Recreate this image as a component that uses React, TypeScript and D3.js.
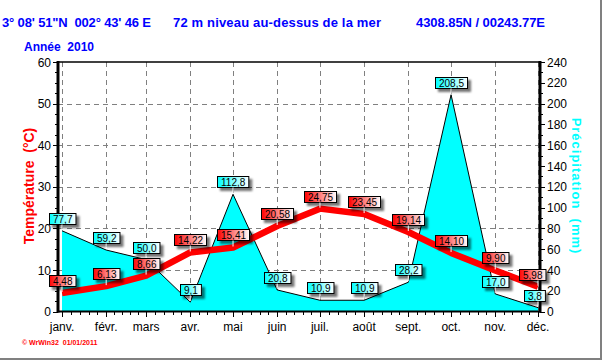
import React, { useEffect, useRef } from 'react';
import * as d3 from 'd3';

const months = ['janv.', 'févr.', 'mars', 'avr.', 'mai', 'juin', 'juil.', 'août', 'sept.', 'oct.', 'nov.', 'déc.'];
const temperature = [4.48, 6.13, 8.66, 14.22, 15.41, 20.58, 24.75, 23.45, 19.14, 14.10, 9.90, 5.98];
const precipitation = [77.7, 59.2, 50.0, 9.1, 112.8, 20.8, 10.9, 10.9, 28.2, 208.5, 17.0, 3.8];
const tempTicks = [0, 10, 20, 30, 40, 50, 60];
const precTicks = [0, 20, 40, 60, 80, 100, 120, 140, 160, 180, 200, 220, 240];

// header pieces, each with its left x and width
const titleParts = [
  { text: '3° 08\' 51"N  002° 43\' 46 E', x: 2, w: 149 },
  { text: '72 m niveau au-dessus de la mer', x: 173, w: 208 },
  { text: '4308.85N / 00243.77E', x: 416, w: 129 },
];
const yearText = 'Année  2010';
const footerText = '© WrWin32  01/01/2011';

const App = () => {
  const svgRef = useRef(null);

  useEffect(() => {
    const width = 603;
    const height = 360;
    const font = '"Liberation Sans", Arial, sans-serif';

    const svg = d3.select(svgRef.current)
      .attr('width', width)
      .attr('height', height)
      .style('display', 'block')
      .style('position', 'absolute')
      .style('left', 0)
      .style('top', 0)
      .style('background', '#fff');
    svg.selectAll('*').remove();

    const defs = svg.append('defs');
    const shadow = defs.append('filter').attr('id', 'shadow')
      .attr('x', '-20%').attr('y', '-30%').attr('width', '160%').attr('height', '190%');
    shadow.append('feDropShadow').attr('dx', 3).attr('dy', 3)
      .attr('stdDeviation', 1.2).attr('flood-color', '#000').attr('flood-opacity', 0.55);

    const grad = (id, c) => {
      const g = defs.append('linearGradient').attr('id', id)
        .attr('x1', '0%').attr('x2', '100%').attr('y1', '0%').attr('y2', '0%');
      g.append('stop').attr('offset', '0%').attr('stop-color', c);
      g.append('stop').attr('offset', '100%').attr('stop-color', '#fff');
    };
    grad('gradRed', '#ff0000');
    grad('gradCyan', '#00ffff');

    const left = 58, right = 540, top = 62, bottom = 311.6;
    const dates = months.map((m, i) => new Date(2010, i, 1));

    const x = d3.scaleTime()
      .domain([dates[0], dates[11]])
      .range([62, 538]);
    const yT = d3.scaleLinear().domain([0, 60]).range([bottom, top]);
    const yP = d3.scaleLinear().domain([0, 240]).range([bottom, top]);

    // frame border
    svg.append('line').attr('x1', 601).attr('x2', 601).attr('y1', 0).attr('y2', 359)
      .attr('stroke', '#808080').attr('stroke-width', 2);
    svg.append('line').attr('x1', 0).attr('x2', 602).attr('y1', 359).attr('y2', 359)
      .attr('stroke', '#808080').attr('stroke-width', 2);

    // grid
    const grid = svg.append('g').attr('stroke', '#808080').attr('stroke-width', 1)
      .attr('stroke-dasharray', '5,4').attr('shape-rendering', 'crispEdges');
    tempTicks.slice(1, -1).forEach(t => {
      grid.append('line').attr('x1', left).attr('x2', right)
        .attr('y1', Math.round(yT(t)) + 0.5).attr('y2', Math.round(yT(t)) + 0.5);
    });
    dates.forEach(d => {
      grid.append('line').attr('x1', Math.round(x(d)) + 0.5).attr('x2', Math.round(x(d)) + 0.5)
        .attr('y1', top).attr('y2', bottom);
    });

    // precipitation area
    const area = d3.area()
      .x((d, i) => x(dates[i]))
      .y0(bottom)
      .y1(d => yP(d));
    svg.append('path').datum(precipitation).attr('d', area).attr('fill', '#00ffff');
    svg.append('path').datum(precipitation)
      .attr('d', d3.line().x((d, i) => x(dates[i])).y(d => yP(d)))
      .attr('fill', 'none').attr('stroke', '#000').attr('stroke-width', 1);

    // temperature line
    svg.append('path').datum(temperature)
      .attr('d', d3.line().x((d, i) => x(dates[i])).y(d => yT(d)))
      .attr('fill', 'none').attr('stroke', '#ff0000').attr('stroke-width', 6.5)
      .attr('stroke-linejoin', 'round');

    // axes lines
    svg.append('line').attr('x1', left).attr('x2', right).attr('y1', top).attr('y2', top)
      .attr('stroke', '#000').attr('stroke-width', 1.5);
    svg.append('line').attr('x1', left).attr('x2', left).attr('y1', top - 1).attr('y2', bottom + 1)
      .attr('stroke', '#000').attr('stroke-width', 3);
    svg.append('line').attr('x1', right).attr('x2', right).attr('y1', top - 1).attr('y2', bottom + 1)
      .attr('stroke', '#000').attr('stroke-width', 3);
    svg.append('line').attr('x1', left).attr('x2', right).attr('y1', bottom).attr('y2', bottom)
      .attr('stroke', '#000').attr('stroke-width', 2);

    // left axis ticks
    const axL = svg.append('g').attr('stroke', '#000').attr('shape-rendering', 'crispEdges');
    d3.range(0, 60.01, 2.5).forEach(t => {
      const major = t % 10 === 0;
      axL.append('line').attr('x1', left - (major ? 5 : 3)).attr('x2', left)
        .attr('y1', Math.round(yT(t)) + 0.5).attr('y2', Math.round(yT(t)) + 0.5);
    });
    svg.append('g').selectAll('text').data(tempTicks).enter().append('text')
      .attr('x', 51).attr('y', d => yT(d) + 4.5)
      .attr('text-anchor', 'end')
      .style('font', `12px ${font}`)
      .text(d => d);

    // right axis ticks
    const axR = svg.append('g').attr('stroke', '#000').attr('shape-rendering', 'crispEdges');
    d3.range(0, 240.01, 10).forEach(t => {
      const major = t % 20 === 0;
      axR.append('line').attr('x1', right).attr('x2', right + (major ? 5 : 3))
        .attr('y1', Math.round(yP(t)) + 0.5).attr('y2', Math.round(yP(t)) + 0.5);
    });
    svg.append('g').selectAll('text').data(precTicks).enter().append('text')
      .attr('x', 547).attr('y', d => yP(d) + 4.5)
      .style('font', `12px ${font}`)
      .text(d => d);

    // bottom axis ticks
    const axB = svg.append('g').attr('stroke', '#000').attr('shape-rendering', 'crispEdges');
    dates.forEach((d, i) => {
      const xm = x(d);
      axB.append('line').attr('x1', Math.round(xm) + 0.5).attr('x2', Math.round(xm) + 0.5)
        .attr('y1', bottom).attr('y2', bottom + 5);
      if (i < dates.length - 1) {
        const xn = x(dates[i + 1]);
        for (let k = 1; k < 5; k++) {
          const xx = Math.round(xm + (xn - xm) * k / 5) + 0.5;
          axB.append('line').attr('x1', xx).attr('x2', xx).attr('y1', bottom).attr('y2', bottom + 3);
        }
      }
    });
    svg.append('g').selectAll('text').data(months).enter().append('text')
      .attr('x', (d, i) => x(dates[i]))
      .attr('y', 331)
      .attr('text-anchor', 'middle')
      .style('font', `12px ${font}`)
      .text(d => d);

    // value labels
    const drawLabels = (values, yScale, fmt, fill) => {
      values.forEach((v, i) => {
        const px = x(dates[i]);
        const py = yScale(v);
        const g = svg.append('g');
        const t = g.append('text')
          .style('font', `10px ${font}`)
          .attr('text-anchor', 'middle')
          .text(fmt(v));
        const w = t.node().getComputedTextLength() + 7;
        const h = 11;
        // keep the last box clear of the right-hand tick labels
        const bx = Math.round(Math.min(px - w / 2, 545 - w)) + 0.5;
        const by = Math.round(py - 7 - h) + 0.5;
        g.append('line').attr('x1', px).attr('x2', px).attr('y1', by + h).attr('y2', py - 1)
          .attr('stroke', '#fff').attr('stroke-width', 1);
        g.insert('rect', 'text')
          .attr('x', bx).attr('y', by).attr('width', w).attr('height', h)
          .attr('fill', `url(#${fill})`).attr('stroke', '#000').attr('stroke-width', 1)
          .attr('filter', 'url(#shadow)');
        t.attr('x', bx + w / 2).attr('y', by + 9);
      });
    };
    const comma = n => d => d.toFixed(n).replace('.', ',');
    drawLabels(precipitation, yP, comma(1), 'gradCyan');
    drawLabels(temperature, yT, comma(2), 'gradRed');

    // titles
    titleParts.forEach(p => {
      svg.append('text').attr('x', p.x).attr('y', 27)
        .style('white-space', 'pre')
        .style('font', `bold 13px ${font}`)
        .attr('textLength', p.w)
        .attr('lengthAdjust', 'spacing')
        .attr('fill', '#0000ff')
        .text(p.text);
    });
    svg.append('text').attr('x', 24).attr('y', 51)
      .style('white-space', 'pre')
      .style('font', `bold 12px ${font}`)
      .attr('fill', '#0000ff')
      .text(yearText);

    svg.append('text')
      .attr('transform', 'translate(34,186) rotate(-90)')
      .attr('text-anchor', 'middle')
      .style('white-space', 'pre')
      .style('font', `bold 14px ${font}`)
      .attr('fill', '#ff0000')
      .text('Température  (°C)');
    svg.append('text')
      .attr('transform', 'translate(572,186) rotate(90)')
      .attr('text-anchor', 'middle')
      .style('white-space', 'pre')
      .style('font', `bold 13px ${font}`)
      .style('letter-spacing', '1px')
      .attr('fill', '#00ffff')
      .text('Précipitation  (mm)');

    svg.append('text').attr('x', 22).attr('y', 345)
      .style('white-space', 'pre')
      .style('font', `bold 7px ${font}`)
      .attr('fill', '#ff0000')
      .text(footerText);
  }, []);

  return (
    <svg ref={svgRef}></svg>
  );
};

export default App;
